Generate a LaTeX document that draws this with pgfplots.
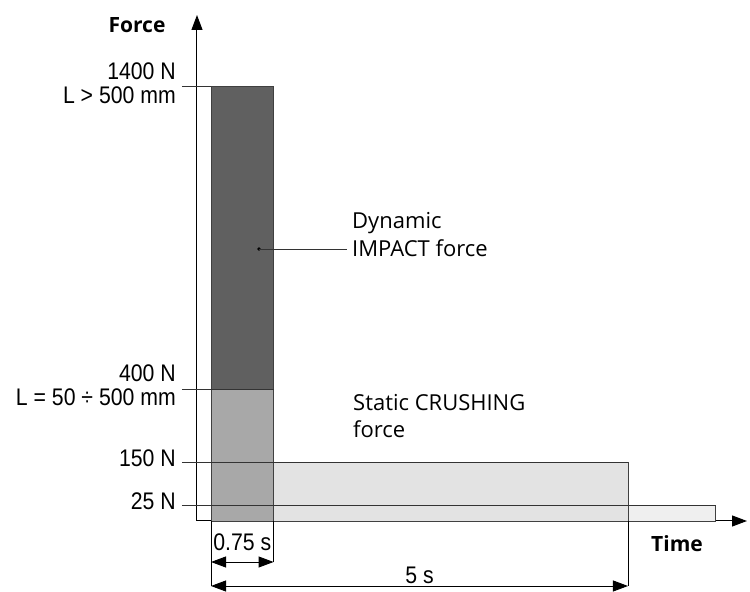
\documentclass[border=0pt]{standalone}
\usepackage{fontspec}
\setmainfont{Open Sans}
\newfontfamily\tickfont[FakeStretch=0.885]{Liberation Sans}
\usepackage{pgfplots}
\pgfplotsset{compat=1.18}
\usetikzlibrary{arrows.meta,calc}
\definecolor{darkbar}{HTML}{606060}
\definecolor{midbar}{HTML}{A8A8A8}
\definecolor{lightbar}{HTML}{E3E3E3}
\definecolor{lightestbar}{HTML}{EFEFEF}
\begin{document}
\begin{tikzpicture}
\begin{axis}[
  scale only axis, width=550pt, height=506pt,
  xmin=-0.1679, xmax=6.427, ymin=0, ymax=1638,
  y coord trafo/.code={\pgfmathparse{(#1<25)*(#1*0.64) + (#1>=25)*(#1<150)*(16+(#1-25)*0.344) + (#1>=150)*(#1<400)*(59+(#1-150)*0.292) + (#1>=400)*(132+(#1-400)*0.302)}},
  axis lines=left,
  axis line style={line width=1pt, -{Triangle[length=15pt,width=11pt]}},
  xtick=\empty,
  ytick={25,150,400,1400},
  yticklabels={25 N, 150 N, {400 N\\L = 50 ÷ 500 mm}, {1400 N\\L > 500 mm}},
  major tick length=0pt,
  yticklabel style={font=\tickfont\fontsize{24}{24.5}\selectfont, align=right, anchor=east, inner sep=0pt, xshift=-21pt, yshift=3.5pt},
  clip=false,
]
% bars (time in s, force in N)
\addplot[fill=lightestbar, draw=black!75, line width=0.9pt] coordinates {(0,0) (0,25) (6.05,25) (6.05,0)} -- cycle;
\addplot[fill=lightbar, draw=black!75, line width=0.9pt] coordinates {(0,0) (0,150) (5,150) (5,0)} -- cycle;
\addplot[fill=midbar, draw=black!75, line width=0.9pt] coordinates {(0,0) (0,400) (0.75,400) (0.75,0)} -- cycle;
\addplot[fill=darkbar, draw=black!75, line width=0.9pt] coordinates {(0,400) (0,1400) (0.75,1400) (0.75,400)} -- cycle;
% level lines
\addplot[black!80, line width=0.9pt] coordinates {(-0.348,25) (6.05,25)};
\addplot[black!80, line width=0.9pt] coordinates {(-0.348,150) (5,150)};
\addplot[black!80, line width=0.9pt] coordinates {(-0.348,400) (0.75,400)};
\addplot[black!80, line width=0.9pt] coordinates {(-0.348,1400) (0,1400)};
\coordinate (O) at (rel axis cs:0,0);
\coordinate (A0) at (axis cs:0,0);
\coordinate (A1) at (axis cs:0.75,0);
\coordinate (A5) at (axis cs:5,0);
\end{axis}
\path ([shift={(-197pt,521pt)}]O) rectangle ([shift={(553pt,-69pt)}]O);
% labels
\node[font=\bfseries\fontsize{21}{21}\selectfont] at ([shift={(-60pt,496pt)}]O) {Force};
\node[font=\bfseries\fontsize{21}{21}\selectfont] at ([shift={(480pt,-23pt)}]O) {Time};
\node[anchor=base west, inner sep=0pt, font=\fontsize{22}{22}\selectfont] at ([shift={(155pt,292pt)}]O) {Dynamic};
\node[anchor=base west, inner sep=0pt, font=\fontsize{22}{22}\selectfont] at ([shift={(155pt,264pt)}]O) {IMPACT force};
\node[anchor=base west, inner sep=0pt, font=\fontsize{22}{22}\selectfont] at ([shift={(156pt,110pt)}]O) {Static CRUSHING};
\node[anchor=base west, inner sep=0pt, font=\fontsize{22}{22}\selectfont] at ([shift={(156pt,83pt)}]O) {force};
\fill ([shift={(62pt,272pt)}]O) circle (1.8pt);
\draw[line width=0.9pt, black!80] ([shift={(62pt,272pt)}]O) -- ([shift={(150pt,272pt)}]O);
% dimension lines
\draw[line width=0.9pt] (A0) -- ++(0,-65pt);
\draw[line width=0.9pt] (A1) -- ++(0,-41pt);
\draw[line width=0.9pt] (A5) -- ++(0,-65pt);
\draw[line width=0.9pt, {Triangle[length=15pt,width=11pt]}-{Triangle[length=15pt,width=11pt]}] ([yshift=-41pt]A0) -- ([yshift=-41pt]A1);
\draw[line width=0.9pt, {Triangle[length=15pt,width=11pt]}-{Triangle[length=15pt,width=11pt]}] ([yshift=-65pt]A0) -- ([yshift=-65pt]A5);
\node[font=\tickfont\fontsize{24}{24}\selectfont] at ($([yshift=-21pt]A0)!0.5!([yshift=-21pt]A1)$) {0.75 s};
\node[font=\tickfont\fontsize{24}{24}\selectfont] at ($([yshift=-54pt]A0)!0.5!([yshift=-54pt]A5)$) {5 s};
\end{tikzpicture}
\end{document}
